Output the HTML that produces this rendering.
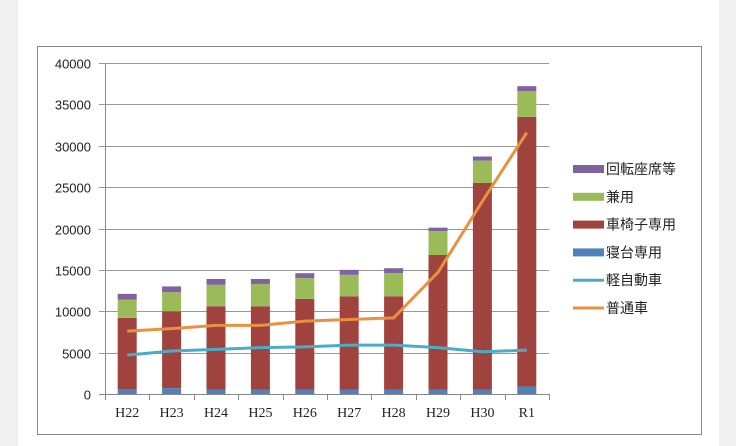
<!DOCTYPE html>
<html><head><meta charset="utf-8"><style>
body{margin:0;background:#f2f2f2;}
</style></head><body>
<svg width="736" height="446" xmlns="http://www.w3.org/2000/svg" style="display:block">
<rect x="0" y="0" width="736" height="446" fill="#f0f0f0"/>
<rect x="18" y="0" width="701" height="446" fill="#fff"/>
<rect x="37.5" y="46.5" width="664" height="388" fill="#fff" stroke="#888" stroke-width="1"/>
<g id="plot"></g>
</svg>
<script>
const s=document.querySelector('svg');const NS='http://www.w3.org/2000/svg';
function el(t,a,txt){const e=document.createElementNS(NS,t);for(const k in a)e.setAttribute(k,a[k]);if(txt!=null)e.textContent=txt;s.appendChild(e);return e;}
const x0=105,x1=549,y0=394,yT=63;const Y=v=>y0-(v/40000)*(y0-yT);
for(let v=0;v<=40000;v+=5000){const y=Math.round(Y(v))+.5;
 el('line',{x1:99,x2:v==0?x1:x1,y1:y,y2:y,stroke:v==0?'#888':'#999','stroke-width':1});
 el('text',{x:91,y:y+5,'text-anchor':'end','font-family':'Liberation Sans, sans-serif','font-size':13,fill:'#222'},v);}
el('line',{x1:x0+.5,x2:x0+.5,y1:yT,y2:y0,stroke:'#888'});
const cats=['H22','H23','H24','H25','H26','H27','H28','H29','H30','R1'];
const d=[[600,9200,11400,12100],[700,10000,12300,13000],[500,10600,13200,13900],[500,10600,13300,13900],[500,11500,14000,14600],[500,11800,14400,15000],[500,11800,14600,15200],[500,16800,19700,20100],[500,25500,28200,28700],[900,33500,36600,37200]];
const orange=[7600,7900,8300,8300,8800,9000,9200,14700,23300,31600];
const teal=[4700,5200,5400,5600,5700,5900,5900,5600,5100,5300];
const cols=['#4f81bd','#a0433f','#9bbb59','#7f63a1'];
const w=(x1-x0)/10;const cx=i=>x0+w*(i+.5);
for(let i=0;i<=10;i++){const x=Math.round(x0+w*i)+.5;el('line',{x1:x,x2:x,y1:y0,y2:y0+6,stroke:'#888'});}
d.forEach((r,i)=>{let p=0;r.forEach((v,j)=>{el('rect',{x:cx(i)-9.5,y:Y(v),width:19,height:Y(p)-Y(v),fill:cols[j]});p=v;});
 el('text',{x:cx(i),y:417,'text-anchor':'middle','font-family':'Liberation Serif, serif','font-size':14,fill:'#222'},cats[i]);});
el('polyline',{points:teal.map((v,i)=>cx(i)+','+Y(v)).join(' '),fill:'none',stroke:'#4bacc6','stroke-width':3});
el('polyline',{points:orange.map((v,i)=>cx(i)+','+Y(v)).join(' '),fill:'none',stroke:'#e8913f','stroke-width':3});
const leg=[['回転座席等','#7f63a1',0],['兼用','#9bbb59',0],['車椅子専用','#a0433f',0],['寝台専用','#4f81bd',0],['軽自動車','#4bacc6',1],['普通車','#e8913f',1]];
leg.forEach((l,i)=>{const y=169+i*27.8;
 if(l[2])el('line',{x1:573,x2:604,y1:y,y2:y,stroke:l[1],'stroke-width':3});
 else el('rect',{x:573,y:y-4,width:31,height:8,fill:l[1]});
 el('text',{x:606,y:y+5,'font-family':'Liberation Sans, Noto Sans CJK JP, sans-serif','font-size':14,fill:'#222'},l[0]);});
</script>
</body></html>
